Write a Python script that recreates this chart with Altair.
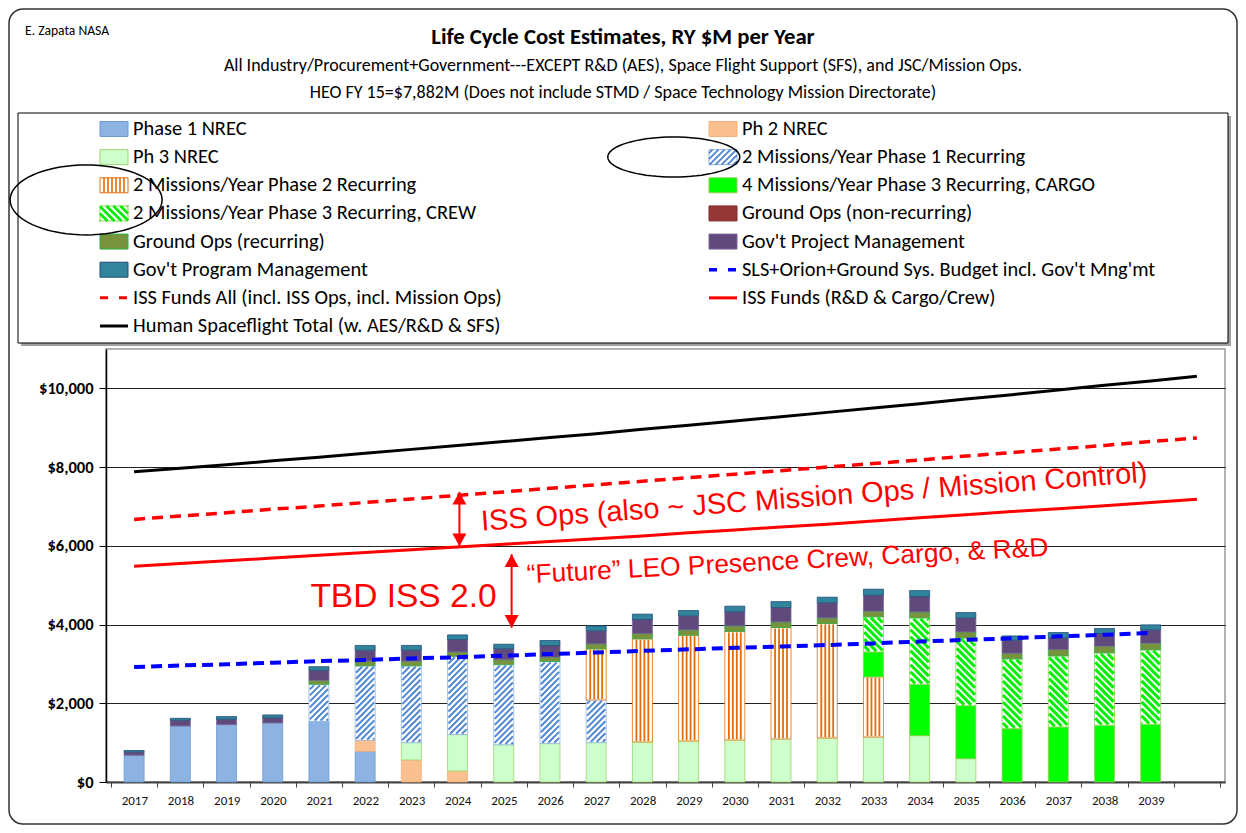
import math
import altair as alt
import pandas as pd

# ---------------- data ----------------
years = list(range(2017, 2040))
line_years = list(range(2017, 2041))

NAMES = [
    "Phase 1 NREC",
    "Ph 2 NREC",
    "Ph 3 NREC",
    "2 Missions/Year Phase 1 Recurring",
    "2 Missions/Year Phase 2 Recurring",
    "4 Missions/Year Phase 3 Recurring, CARGO",
    "2 Missions/Year Phase 3 Recurring, CREW",
    "Ground Ops (non-recurring)",
    "Ground Ops (recurring)",
    "Gov't Project Management",
    "Gov't Program Management",
    "SLS+Orion+Ground Sys. Budget incl. Gov't Mng'mt",
    "ISS Funds All (incl. ISS Ops, incl. Mission Ops)",
    "ISS Funds (R&D & Cargo/Crew)",
    "Human Spaceflight Total (w. AES/R&D & SFS)",
]

#               2017 2018 2019 2020 2021 2022 2023 2024 2025 2026 2027 2028 2029 2030 2031 2032 2033 2034 2035 2036 2037 2038 2039
phase1_nrec  = [680, 1424, 1458, 1500, 1542, 780, 0, 0, 0, 0, 0, 0, 0, 0, 0, 0, 0, 0, 0, 0, 0, 0, 0]
ph2_nrec     = [0, 0, 0, 0, 0, 280, 560, 280, 0, 0, 0, 0, 0, 0, 0, 0, 0, 0, 0, 0, 0, 0, 0]
ph3_nrec     = [0, 0, 0, 0, 0, 0, 440, 924, 945, 975, 1000, 1017, 1042, 1068, 1093, 1119, 1144, 1178, 593, 0, 0, 0, 0]
ph1_recur    = [0, 0, 0, 0, 940, 1890, 1950, 1990, 2035, 2085, 1085, 0, 0, 0, 0, 0, 0, 0, 0, 0, 0, 0, 0]
ph2_recur    = [0, 0, 0, 0, 0, 0, 0, 0, 0, 0, 1297, 2619, 2686, 2754, 2830, 2907, 1525, 0, 0, 0, 0, 0, 0]
ph3_cargo    = [0, 0, 0, 0, 0, 0, 0, 0, 0, 0, 0, 0, 0, 0, 0, 0, 636, 1305, 1347, 1356, 1398, 1441, 1466]
ph3_crew     = [0, 0, 0, 0, 0, 0, 0, 0, 0, 0, 0, 0, 0, 0, 0, 0, 890, 1686, 1720, 1771, 1805, 1839, 1890]
ground_nonrec = [0, 0, 0, 0, 0, 0, 0, 0, 0, 0, 0, 0, 0, 0, 0, 0, 0, 0, 0, 0, 0, 0, 0]
ground_recur = [0, 0, 0, 0, 100, 120, 120, 110, 125, 110, 127, 136, 136, 144, 144, 144, 144, 152, 152, 144, 161, 170, 170]
proj_mgmt    = [80, 144, 136, 127, 254, 280, 280, 314, 280, 297, 330, 356, 356, 356, 364, 381, 407, 390, 356, 330, 297, 322, 339]
prog_mgmt    = [40, 50, 68, 76, 93, 119, 119, 119, 115, 127, 127, 136, 136, 144, 152, 144, 152, 152, 136, 110, 136, 127, 127]

# lines, 2017..2039 (SLS) and 2017..2040 (others)
sls_orion = [2920, 2960, 2990, 3030, 3070, 3100, 3140, 3170, 3210, 3250, 3290, 3330,
             3370, 3410, 3440, 3480, 3520, 3570, 3610, 3650, 3700, 3740, 3790]
iss_all   = [6670, 6760, 6840, 6930, 7010, 7100, 7190, 7280, 7370, 7460, 7550, 7640,
             7730, 7820, 7910, 8000, 8090, 8180, 8280, 8370, 8460, 8550, 8650, 8740]
iss_rd    = [5480, 5550, 5620, 5690, 5760, 5830, 5900, 5970, 6040, 6110, 6180, 6250,
             6330, 6400, 6480, 6550, 6630, 6710, 6790, 6870, 6940, 7020, 7100, 7180]
hsf_total = [7880, 7970, 8060, 8160, 8250, 8350, 8450, 8550, 8650, 8750, 8850, 8960,
             9060, 9170, 9280, 9390, 9500, 9610, 9730, 9840, 9960, 10080, 10190, 10310]

y_ticks = [0, 2000, 4000, 6000, 8000, 10000]

title_text = "Life Cycle Cost Estimates, RY $M per Year"
subtitle_1 = "All Industry/Procurement+Government---EXCEPT R&D (AES), Space Flight Support (SFS), and JSC/Mission Ops."
subtitle_2 = "HEO FY 15=$7,882M (Does not include STMD / Space Technology Mission Directorate)"
author_text = "E. Zapata NASA"

# annotations (data coordinates: year, $M)
annot_iss_ops = {"x": 2031.73, "y": 7004, "t": "ISS Ops (also ~ JSC Mission Ops / Mission Control)"}
annot_future = {"x": 2031.15, "y": 5400, "t": "\u201cFuture\u201d LEO Presence Crew, Cargo, & R&D"}
annot_tbd = {"x": 2022.83, "y": 4446, "t": "TBD ISS 2.0"}
arrow_x = [2024.04, 2025.17]
arrow_top = [7370, 5785]
arrow_bottom = [5990, 3920]

# ---------------- styles ----------------
W, H = 1119, 433
X_DOM = [2016.5, 2040.5]
Y_DOM = [0, 11000]
SX = W / (X_DOM[1] - X_DOM[0])
SY = H / (Y_DOM[1] - Y_DOM[0])
BAR_W = 20

FONT = "Carlito, 'Liberation Sans Narrow', Lato, sans-serif"
ARIAL = "'Liberation Sans', Arial, sans-serif"

FILL = ["#8DB3E2", "#FAC08F", "#CCFFCC", "#FFFFFF", "#FFFFFF", "#00FF00",
        "#FFFFFF", "#953735", "#77933C", "#604A7B", "#31849B"]
EDGE = ["#6C9BD2", "#F7B07A", "#9ED36A", "#8DB3E2", "#E46C0A", "#92D050",
        "#92D050", "#7F2D2B", "#2DB04A", "#7A6799", "#1F4E79"]
BAR_NAMES = NAMES[:11]
FILL_SCALE = alt.Scale(domain=BAR_NAMES, range=FILL)
EDGE_SCALE = alt.Scale(domain=BAR_NAMES, range=EDGE)

XS = alt.Scale(domain=X_DOM, nice=False, zero=False)
YS = alt.Scale(domain=Y_DOM, nice=False)

AX_X = alt.Axis(
    values=[X_DOM[0] + i for i in range(25)],
    labelExpr="datum.value < 2039 ? format(datum.value + 0.5, 'd') : ''",
    labelOffset=SX / 2, labelFlush=False, labelOverlap=False,
    tickSize=5, tickColor="#404040", domainColor="#404040", domainWidth=2,
    grid=False, title=None, labelFont=FONT, labelFontSize=13,
    labelColor="#111111", labelPadding=7,
)
AX_Y = alt.Axis(
    values=y_ticks, format="$,.0f", title=None,
    labelFont=FONT, labelFontSize=16.5, labelFontWeight="bold", labelColor="#000000",
    labelPadding=6, tickSize=7, tickColor="#000000", domainColor="#000000",
    domainWidth=1.5, grid=True, gridColor="#222222", gridWidth=1,
)

# ---------------- stacked segments ----------------
bar_values = [phase1_nrec, ph2_nrec, ph3_nrec, ph1_recur, ph2_recur, ph3_cargo,
              ph3_crew, ground_nonrec, ground_recur, proj_mgmt, prog_mgmt]
rows = []
for i, yr in enumerate(years):
    base = 0
    for name, vals in zip(BAR_NAMES, bar_values):
        v = vals[i]
        if v > 0:
            rows.append({"year": yr, "name": name, "y0": base, "y1": base + v})
        base += v
seg = pd.DataFrame(rows)


def diag(x0, x1, y0, y1, m, d):
    out = []
    if m > 0:
        cmin, cmax = y0 - x1, y1 - x0
    else:
        cmin, cmax = y0 + x0, y1 + x1
    k = math.floor(cmin / d)
    while k * d <= cmax:
        c = k * d
        if m > 0:
            xa, xb = max(x0, y0 - c), min(x1, y1 - c)
        else:
            xa, xb = max(x0, c - y1), min(x1, c - y0)
        if xb - xa > 0.05 * d:
            out.append((xa, m * xa + c, xb, m * xb + c))
        k += 1
    return out


HATCH = {
    NAMES[3]: ("diag", 1, 6.0, "#4F86D0", 2.0),
    NAMES[4]: ("vert", [4, 8, 12, 16], None, "#E46C0A", 1.8),
    NAMES[6]: ("diag", -1, 7.0, "#00EE00", 3.0),
}
hrows = []
for _, r in seg.iterrows():
    spec = HATCH.get(r["name"])
    if not spec:
        continue
    cx = (r["year"] - X_DOM[0]) * SX
    X0, X1 = cx - BAR_W / 2 + 0.8, cx + BAR_W / 2 - 0.8
    Y0, Y1 = r["y0"] * SY + 0.8, r["y1"] * SY - 0.8
    if spec[0] == "diag":
        segs = diag(X0, X1, Y0, Y1, spec[1], spec[2])
    else:
        segs = [(cx - BAR_W / 2 + o, Y0, cx - BAR_W / 2 + o, Y1) for o in spec[1]]
    for xa, ya, xb, yb in segs:
        hrows.append({"name": r["name"], "hx": X_DOM[0] + xa / SX, "hx2": X_DOM[0] + xb / SX,
                      "hy": ya / SY, "hy2": yb / SY})
hdf = pd.DataFrame(hrows)

# ---------------- main plot layers ----------------
bars = alt.Chart(seg).mark_bar(size=BAR_W, strokeWidth=0.8).encode(
    x=alt.X("year:Q", scale=XS, axis=AX_X),
    y=alt.Y("y0:Q", scale=YS, axis=AX_Y),
    y2="y1:Q",
    fill=alt.Fill("name:N", scale=FILL_SCALE, legend=None),
    stroke=alt.Stroke("name:N", scale=EDGE_SCALE, legend=None),
)

hatch_layers = []
for name, spec in HATCH.items():
    sub = hdf[hdf["name"] == name]
    hatch_layers.append(
        alt.Chart(sub).mark_rule(color=spec[3], strokeWidth=spec[4]).encode(
            x=alt.X("hx:Q", scale=XS, axis=AX_X), x2="hx2:Q",
            y=alt.Y("hy:Q", scale=YS, axis=AX_Y), y2="hy2:Q",
        )
    )


def line_layer(xs, vals, **kw):
    df = pd.DataFrame({"year": xs, "value": vals})
    return alt.Chart(df).mark_line(**kw).encode(
        x=alt.X("year:Q", scale=XS, axis=AX_X),
        y=alt.Y("value:Q", scale=YS, axis=AX_Y),
    )


l_sls = line_layer(years, sls_orion, color="#0000FF", strokeWidth=4, strokeDash=[11, 6])
l_iss_all = line_layer(line_years, iss_all, color="#FF0000", strokeWidth=3.5, strokeDash=[11, 7])
l_iss_rd = line_layer(line_years, iss_rd, color="#FF0000", strokeWidth=3)
l_hsf = line_layer(line_years, hsf_total, color="#000000", strokeWidth=3)

arr_df = pd.DataFrame({"x": arrow_x, "top": arrow_top, "bot": arrow_bottom})
UP = "M0,0L-0.5,0.9L0.5,0.9Z"
DOWN = "M0,0L-0.5,-0.9L0.5,-0.9Z"
arr_rule = alt.Chart(arr_df).mark_rule(color="#FF0000", strokeWidth=2).encode(
    x=alt.X("x:Q", scale=XS, axis=AX_X),
    y=alt.Y("top:Q", scale=YS, axis=AX_Y), y2="bot:Q")
arr_up = alt.Chart(arr_df).mark_point(shape=UP, size=784, filled=True, color="#FF0000", opacity=1).encode(
    x=alt.X("x:Q", scale=XS, axis=AX_X), y=alt.Y("top:Q", scale=YS, axis=AX_Y))
arr_dn = alt.Chart(arr_df).mark_point(shape=DOWN, size=784, filled=True, color="#FF0000", opacity=1).encode(
    x=alt.X("x:Q", scale=XS, axis=AX_X), y=alt.Y("bot:Q", scale=YS, axis=AX_Y))


def annot(a, size, angle):
    return alt.Chart(pd.DataFrame([a])).mark_text(
        font=ARIAL, fontSize=size, angle=angle, color="#FF0000",
        align="center", baseline="alphabetic").encode(
        x=alt.X("x:Q", scale=XS, axis=AX_X), y=alt.Y("y:Q", scale=YS, axis=AX_Y), text="t:N")


t_iss = annot(annot_iss_ops, 29, 355.8)
t_future = annot(annot_future, 26.4, 357)
t_tbd = annot(annot_tbd, 33.5, 0)

main = alt.layer(bars, *hatch_layers, l_sls, l_iss_all, l_iss_rd, l_hsf,
                 arr_rule, arr_up, arr_dn, t_iss, t_future, t_tbd)

# ---------------- legend (own scales: column / row) ----------------
leg = pd.DataFrame({"name": NAMES, "col": [i % 2 for i in range(len(NAMES))],
                    "row": [i // 2 for i in range(len(NAMES))]})
LX = alt.X("col:Q", scale=alt.Scale(domain=[0, 1], range=[27, 636], nice=False, zero=False), axis=None)
LY = alt.Y("row:Q", scale=alt.Scale(domain=[0, 7], range=[-220, -23], nice=False, zero=False), axis=None)

PH = 7.5 / 14.0
RECT = "M-1,-{h:.3f}H1V{h:.3f}H-1Z".format(h=PH)


def path_from(segs):
    return "".join("M{:.3f},{:.3f}L{:.3f},{:.3f}".format(*s) for s in segs)


STRIPE_PATHS = {
    NAMES[3]: path_from(diag(-1, 1, -PH, PH, -1, 6.0 / 14)),
    NAMES[4]: path_from([(-1 + k * 4.0 / 14, -PH, -1 + k * 4.0 / 14, PH) for k in range(1, 7)]),
    NAMES[6]: path_from(diag(-1, 1, -PH, PH, 1, 7.0 / 14)),
}

solid_names = [n for n in BAR_NAMES if n not in HATCH]
leg_solid = alt.Chart(leg[leg["name"].isin(solid_names)]).mark_point(
    shape=RECT, size=784, filled=True, xOffset=-19, strokeWidth=1, opacity=1).encode(
    x=LX, y=LY,
    fill=alt.Fill("name:N", scale=FILL_SCALE, legend=None),
    stroke=alt.Stroke("name:N", scale=EDGE_SCALE, legend=None))
leg_hatch_box = alt.Chart(leg[leg["name"].isin(list(HATCH))]).mark_point(
    shape=RECT, size=784, filled=True, fill="#FFFFFF", xOffset=-19, strokeWidth=1, opacity=1).encode(
    x=LX, y=LY, stroke=alt.Stroke("name:N", scale=EDGE_SCALE, legend=None))
leg_stripes = []
for name, spec in HATCH.items():
    leg_stripes.append(
        alt.Chart(leg[leg["name"] == name]).mark_point(
            shape=STRIPE_PATHS[name], size=784, filled=False, xOffset=-19,
            stroke=spec[3], strokeWidth=spec[4] * 0.9, opacity=1).encode(x=LX, y=LY))

LINE_STYLE = {
    NAMES[11]: ("#0000FF", 3.5, [8, 11]),
    NAMES[12]: ("#FF0000", 3, [8, 11]),
    NAMES[13]: ("#FF0000", 3, None),
    NAMES[14]: ("#000000", 3, None),
}
leg_lines = []
for name, (col, wdt, dash) in LINE_STYLE.items():
    kw = dict(shape="M-1,0H1", size=784, filled=False, xOffset=-19, stroke=col,
              strokeWidth=wdt, opacity=1)
    if dash:
        kw["strokeDash"] = dash
    leg_lines.append(alt.Chart(leg[leg["name"] == name]).mark_point(**kw).encode(x=LX, y=LY))

leg_text = alt.Chart(leg).mark_text(align="left", baseline="middle", font=FONT,
                                    fontSize=20.4, color="#000000").encode(x=LX, y=LY, text="name:N")


def ellipse_path(ratio, n=72):
    pts = [(math.cos(2 * math.pi * k / n), ratio * math.sin(2 * math.pi * k / n)) for k in range(n)]
    return "M" + "L".join("{:.3f},{:.3f}".format(*p) for p in pts) + "Z"


ell1 = alt.Chart(pd.DataFrame({"col": [0.888], "row": [0.995]})).mark_point(
    shape=ellipse_path(0.303), size=132 ** 2, filled=False, stroke="#000000",
    strokeWidth=1.5, opacity=1).encode(x=LX, y=LY)
ell2 = alt.Chart(pd.DataFrame({"col": [-0.077], "row": [2.52]})).mark_point(
    shape=ellipse_path(0.46), size=152 ** 2, filled=False, stroke="#000000",
    strokeWidth=1.5, opacity=1).encode(x=LX, y=LY)

legend_layer = alt.layer(leg_solid, leg_hatch_box, *leg_stripes, *leg_lines, leg_text, ell1, ell2)

# ---------------- decorations (frame, title, legend box) ----------------
ONE = pd.DataFrame({"k": [0]})


def box(x, x2, y, y2, **kw):
    return alt.Chart(ONE).mark_rect(**kw).encode(
        x=alt.value(x), x2=alt.value(x2), y=alt.value(y), y2=alt.value(y2))


def label(txt, x, y, size, weight="normal", align="center"):
    return alt.Chart(ONE).mark_text(font=FONT, fontSize=size, fontWeight=weight, align=align,
                                    baseline="middle", color="#000000").encode(
        x=alt.value(x), y=alt.value(y), text=alt.value(txt))


frame = box(-97, 1131, -340, 475, fill="#FFFFFF", fillOpacity=0, stroke="#333333",
            strokeWidth=1.5, cornerRadius=14)
leg_shadow = box(-85, 1125, -233, -3, fill="#A0A0A0")
leg_box = box(-88, 1122, -236, -6, fill="#FFFFFF", stroke="#000000", strokeWidth=1)

titles = alt.layer(
    label(title_text, 517, -312, 22.7, "bold"),
    label(subtitle_1, 517, -283, 18),
    label(subtitle_2, 517, -256, 18),
    label(author_text, -81, -318, 13.6, align="left"),
)

chart = alt.layer(frame, leg_shadow, leg_box, titles, main, legend_layer).resolve_scale(
    x="independent", y="independent"
).properties(
    width=W, height=H,
    autosize=alt.AutoSizeParams(type="none"),
    padding={"left": 98, "top": 341, "right": 13, "bottom": 43},
).configure_view(stroke="#999999", strokeWidth=1.5)

chart.save("out.html", embed_options={"renderer": "svg", "actions": False})
